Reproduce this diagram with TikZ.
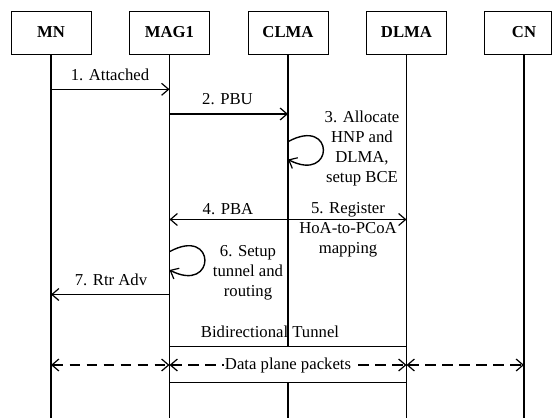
\documentclass[tikz,border=0pt]{standalone}
\usepackage{fontspec}
\setmainfont{Liberation Serif}
\usetikzlibrary{arrows.meta}
\begin{document}
\begin{tikzpicture}[x=1pt,y=-1pt,
  barb/.tip={Straight Barb[length=7pt,width=12pt,line width=1.2pt]},
  txt/.style={font=\fontsize{16.7}{20}\selectfont, inner sep=0pt, align=center},
  actor/.style={draw, line width=0.9pt, minimum width=80pt, minimum height=43pt,
    inner sep=0pt, font=\fontsize{16.7}{20}\selectfont\bfseries},
  life/.style={line width=1.4pt},
  msg/.style={line width=1.4pt, -{barb}},
  data/.style={line width=1.4pt, dash pattern=on 10.5pt off 6.5pt, {barb}-{barb}},
  tunnel/.style={line width=1.2pt}]
\useasboundingbox (0,0) rectangle (553,417);

% entities
\node[actor] (MN)   at (51,32.5)    {MN};
\node[actor] (MAG1) at (169.5,32.5) {MAG1};
\node[actor] (CLMA) at (288,32.5)   {CLMA};
\node[actor] (DLMA) at (406.5,32.5) {DLMA};
\node[actor, minimum width=67.5pt] (CNbox) at (517.75,32.5) {};
\node[font=\fontsize{16.7}{20}\selectfont\bfseries, inner sep=0pt] (CN) at (524,32.5) {CN};

% reference levels
\coordinate (bot)  at (0,420);
\coordinate (ttop) at (0,346.7);
\coordinate (tbot) at (0,382.7);
\coordinate (dpl)  at (0,365);

% lifelines
\draw[life] (MN.south)   -- (MN.south |- bot);
\draw[life] (MAG1.south) -- (MAG1.south |- bot);
\draw[life] (CLMA.south) -- (CLMA.south |- ttop);
\draw[life] (CLMA.south |- tbot) -- (CLMA.south |- bot);
\draw[life] (DLMA.south) -- (DLMA.south |- bot);
\draw[life] (CN |- CNbox.south) -- (CN |- bot);

% message end points
\path (MN.south |- 0,89.3)    coordinate (a1s)
      (MAG1.south |- 0,89.3)  coordinate (a1e)
      (MAG1.south |- 0,114)   coordinate (a2s)
      (CLMA.south |- 0,114)   coordinate (a2e)
      (CLMA.south |- 0,141.7) coordinate (a3s)
      (CLMA.south |- 0,159.5) coordinate (a3e)
      (CLMA.south |- 0,219.5) coordinate (a4s)
      (MAG1.south |- 0,219.5) coordinate (a4e)
      (DLMA.south |- 0,219.5) coordinate (a5e)
      (MAG1.south |- 0,251.7) coordinate (a6s)
      (MAG1.south |- 0,270)   coordinate (a6e)
      (MAG1.south |- 0,294.5) coordinate (a7s)
      (MN.south |- 0,294.5)   coordinate (a7e);

% signalling
\draw[msg] (a1s) -- (a1e);
\draw[msg] (a2s) -- (a2e);
\draw[msg] (a3s) .. controls +(47,-26) and +(47,24) .. (a3e);
\draw[msg] (a4s) -- (a4e);
\draw[msg] (a4s) -- (a5e);
\draw[msg] (a6s) .. controls +(47,-26) and +(47,24) .. (a6e);
\draw[msg] (a7s) -- (a7e);

% labels
\node[txt, anchor=base] (l1) at (110,81)    {1. Attached};
\node[txt, anchor=base] (l2) at (227.5,104.3) {2. PBU};
\node[txt] (l3) at (362,148) {3. Allocate\\HNP and\\DLMA,\\setup BCE};
\node[txt, anchor=base] (l4) at (228,214) {4. PBA};
\node[txt] (l5) at (348,230) {5. Register\\HoA-to-PCoA\\mapping};
\node[txt] (l6) at (248,273) {6. Setup\\tunnel and\\routing};
\node[txt, anchor=base] (l7) at (111,285.7) {7. Rtr Adv};

% tunnel between MAG1 and DLMA
\node[txt, anchor=base] (tl) at (270,337) {Bidirectional Tunnel};
\draw[tunnel] (MAG1.south |- ttop) -- (DLMA.south |- ttop);
\draw[tunnel] (MAG1.south |- tbot) -- (DLMA.south |- tbot);

% data plane
\path (MN.south |- dpl)   coordinate (d1)
      (MAG1.south |- dpl) coordinate (d2)
      (DLMA.south |- dpl) coordinate (d3)
      (CN |- dpl)         coordinate (d4);
\draw[data] (d1) -- (d2);
\draw[data] (d2) -- (d3);
\draw[data] (d3) -- (d4);
\node[txt, fill=white, inner xsep=1pt, inner ysep=1pt] (dp) at (CLMA.south |- dpl) {Data plane packets};
\end{tikzpicture}
\end{document}
